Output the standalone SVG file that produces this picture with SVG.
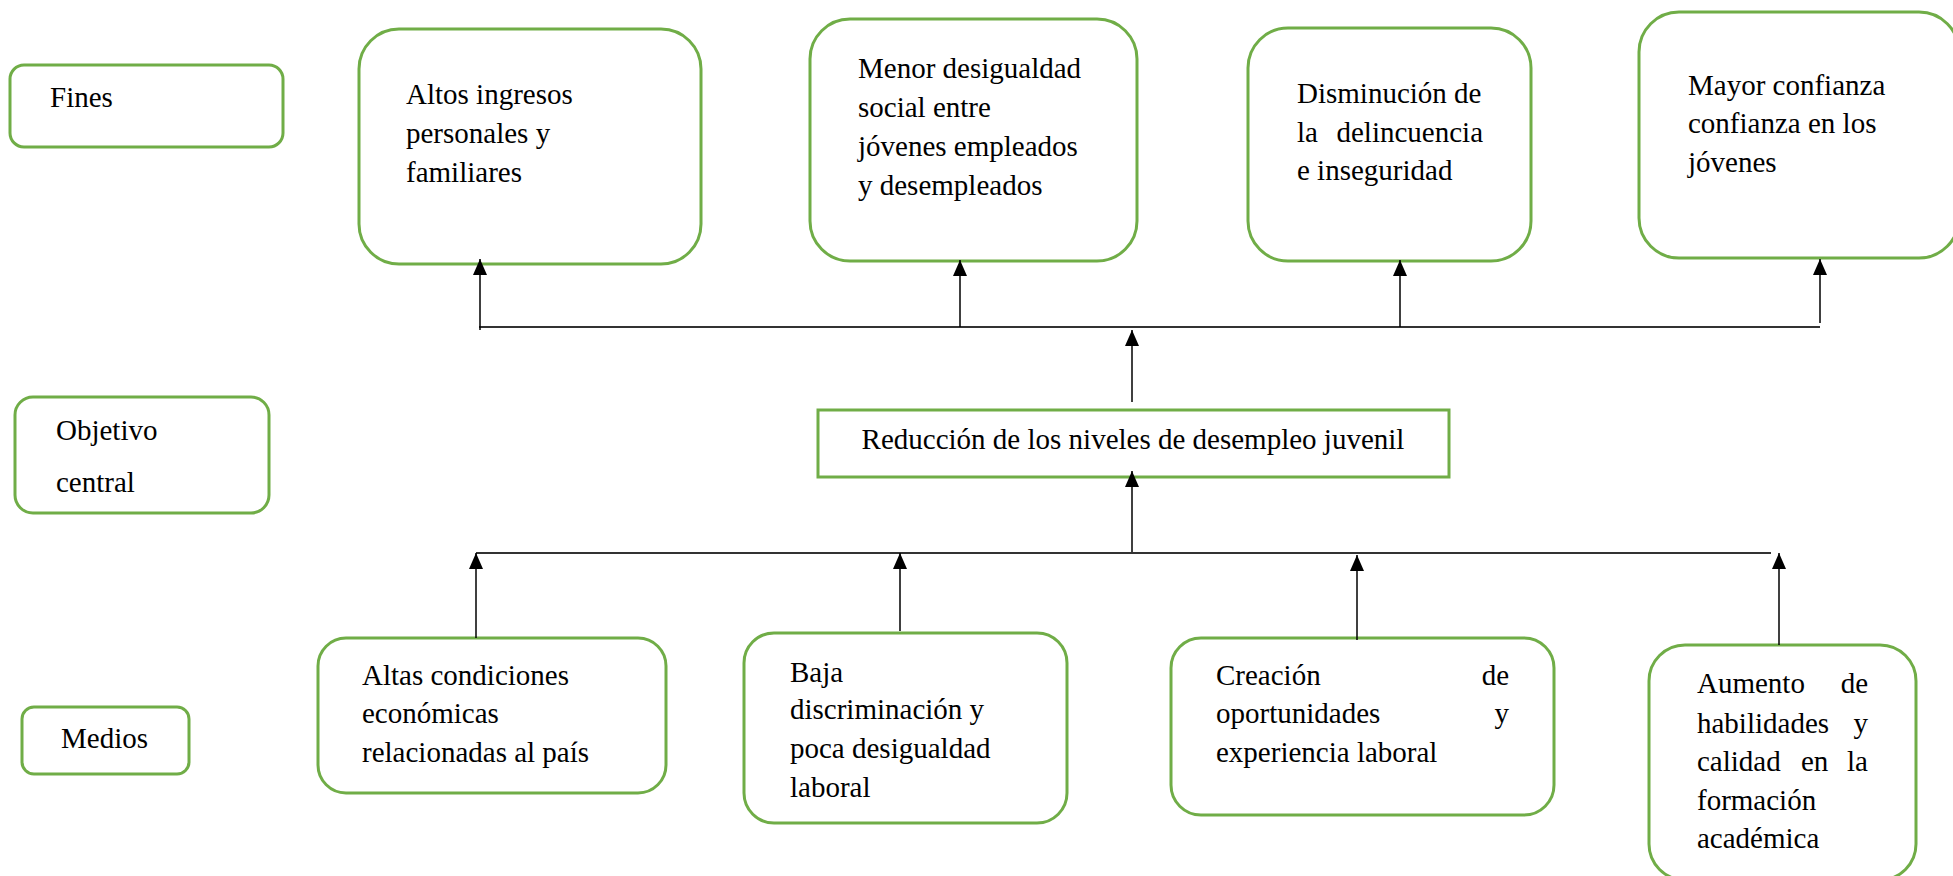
<svg xmlns="http://www.w3.org/2000/svg" width="1953" height="876" viewBox="0 0 1953 876">
<style>
.box{fill:#fff;stroke:#70AD47;stroke-width:3}
.t{font-family:"Liberation Serif","Times New Roman",serif;font-size:29px;fill:#000}
.c{stroke:#000;stroke-width:1.5;fill:none}
.h{stroke:#333;stroke-width:2;fill:none}
</style>
<defs>
<marker id="ah" markerUnits="userSpaceOnUse" markerWidth="16" markerHeight="14" refX="16" refY="7" orient="auto">
<path d="M0,0 L16,7 L0,14 z" fill="#000"/>
</marker>
</defs>
<g id="fines">
<rect class="box" x="10" y="65" width="273" height="82" rx="14"/>
<text class="t" x="50" y="107">Fines</text>
</g>
<g id="objetivo">
<rect class="box" x="15" y="397" width="254" height="116" rx="18"/>
<text class="t" x="56" y="440">Objetivo</text>
<text class="t" x="56" y="492">central</text>
</g>
<g id="medios">
<rect class="box" x="22" y="707" width="167" height="67" rx="12"/>
<text class="t" x="61" y="748">Medios</text>
</g>
<g id="fin1">
<rect class="box" x="359" y="29" width="342" height="235" rx="40"/>
<text class="t" x="406" y="104">Altos ingresos</text>
<text class="t" x="406" y="143">personales y</text>
<text class="t" x="406" y="182">familiares</text>
</g>
<g id="fin2">
<rect class="box" x="810" y="19" width="327" height="242" rx="40"/>
<text class="t" x="858" y="78">Menor desigualdad</text>
<text class="t" x="858" y="117">social entre</text>
<text class="t" x="858" y="156">jóvenes empleados</text>
<text class="t" x="858" y="195">y desempleados</text>
</g>
<g id="fin3">
<rect class="box" x="1248" y="28" width="283" height="233" rx="40"/>
<text class="t" x="1297" y="103">Disminución de</text>
<text class="t" x="1297" y="142">la</text>
<text class="t" x="1483" y="142" text-anchor="end">delincuencia</text>
<text class="t" x="1297" y="180">e inseguridad</text>
</g>
<g id="fin4">
<rect class="box" x="1639" y="12" width="320" height="246" rx="40"/>
<text class="t" x="1688" y="95">Mayor confianza</text>
<text class="t" x="1688" y="133">confianza en los</text>
<text class="t" x="1688" y="172">jóvenes</text>
</g>
<g id="objetivo-central">
<rect x="818" y="410" width="631" height="67" fill="#fff" stroke="#70AD47" stroke-width="3"/>
<text class="t" x="1133" y="449" text-anchor="middle">Reducción de los niveles de desempleo juvenil</text>
</g>
<g id="medio1">
<rect class="box" x="318" y="638" width="348" height="155" rx="28"/>
<text class="t" x="362" y="685">Altas condiciones</text>
<text class="t" x="362" y="723">económicas</text>
<text class="t" x="362" y="762">relacionadas al país</text>
</g>
<g id="medio2">
<rect class="box" x="744" y="633" width="323" height="190" rx="30"/>
<text class="t" x="790" y="682">Baja</text>
<text class="t" x="790" y="719">discriminación y</text>
<text class="t" x="790" y="758">poca desigualdad</text>
<text class="t" x="790" y="797">laboral</text>
</g>
<g id="medio3">
<rect class="box" x="1171" y="638" width="383" height="177" rx="30"/>
<text class="t" x="1216" y="685">Creación</text>
<text class="t" x="1509" y="685" text-anchor="end">de</text>
<text class="t" x="1216" y="723">oportunidades</text>
<text class="t" x="1509" y="723" text-anchor="end">y</text>
<text class="t" x="1216" y="762">experiencia laboral</text>
</g>
<g id="medio4">
<rect class="box" x="1649" y="645" width="267" height="235" rx="36"/>
<text class="t" x="1697" y="693">Aumento</text>
<text class="t" x="1868" y="693" text-anchor="end">de</text>
<text class="t" x="1697" y="733">habilidades</text>
<text class="t" x="1868" y="733" text-anchor="end">y</text>
<text class="t" x="1697" y="771">calidad</text>
<text class="t" x="1801" y="771">en</text>
<text class="t" x="1868" y="771" text-anchor="end">la</text>
<text class="t" x="1697" y="810">formación</text>
<text class="t" x="1697" y="848">académica</text>
</g>
<g id="connectors">
<line class="h" x1="479" y1="327" x2="1820" y2="327"/>
<line class="c" x1="480" y1="330" x2="480" y2="259" marker-end="url(#ah)"/>
<line class="c" x1="960" y1="327" x2="960" y2="260" marker-end="url(#ah)"/>
<line class="c" x1="1400" y1="327" x2="1400" y2="260" marker-end="url(#ah)"/>
<line class="c" x1="1820" y1="323" x2="1820" y2="259" marker-end="url(#ah)"/>
<line class="c" x1="1132" y1="402" x2="1132" y2="330" marker-end="url(#ah)"/>
<line class="c" x1="1132" y1="553" x2="1132" y2="471" marker-end="url(#ah)"/>
<line class="h" x1="476" y1="553" x2="1771" y2="553"/>
<line class="c" x1="476" y1="638" x2="476" y2="553" marker-end="url(#ah)"/>
<line class="c" x1="900" y1="631" x2="900" y2="553" marker-end="url(#ah)"/>
<line class="c" x1="1357" y1="640" x2="1357" y2="555" marker-end="url(#ah)"/>
<line class="c" x1="1779" y1="645" x2="1779" y2="553" marker-end="url(#ah)"/>
</g>
</svg>
